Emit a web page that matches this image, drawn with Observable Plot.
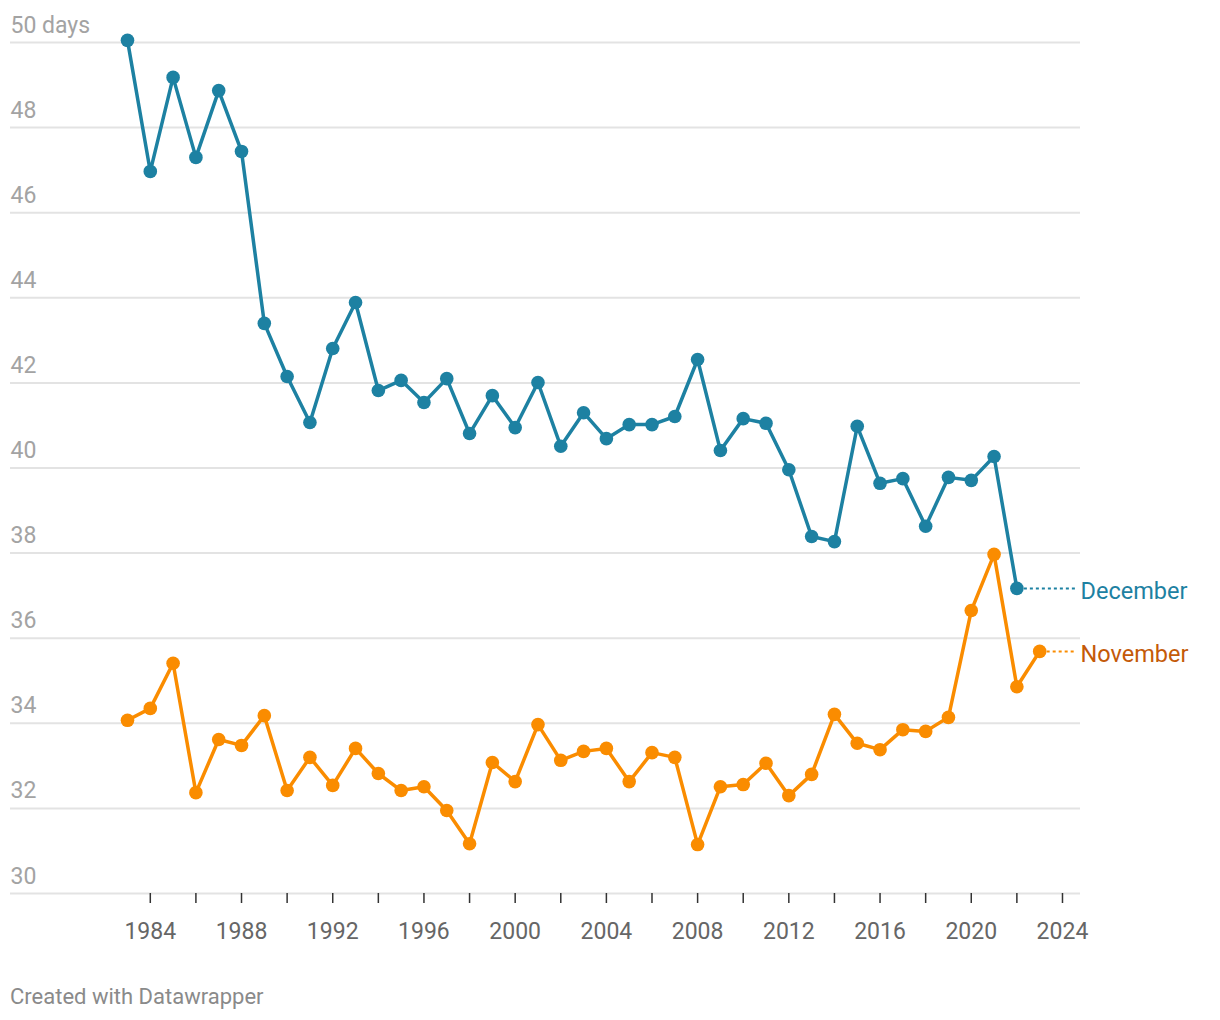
<!DOCTYPE html>
<html><head><meta charset="utf-8">
<script src="https://cdn.jsdelivr.net/npm/d3@7"></script>
<script src="https://cdn.jsdelivr.net/npm/@observablehq/plot@0.6"></script>
<style>
body{margin:0;background:#fff;font-family:Roboto,sans-serif;}
#wrap{position:relative;width:1220px;height:1020px;}
.footer{position:absolute;left:10px;top:984px;font-size:22px;color:#8a8a8a;font-family:Roboto,sans-serif;}
</style></head><body>
<div id="wrap"><div id="chart"></div><div class="footer">Created with Datawrapper</div></div>
<script>
const years = [1983,1984,1985,1986,1987,1988,1989,1990,1991,1992,1993,1994,1995,1996,1997,1998,1999,2000,2001,2002,2003,2004,2005,2006,2007,2008,2009,2010,2011,2012,2013,2014,2015,2016,2017,2018,2019,2020,2021,2022,2023];
const december = [50.05,46.97,49.18,47.30,48.87,47.44,43.40,42.15,41.07,42.81,43.89,41.82,42.06,41.54,42.10,40.81,41.70,40.95,42.01,40.51,41.30,40.69,41.02,41.02,41.21,42.55,40.41,41.16,41.05,39.96,38.39,38.27,40.98,39.64,39.75,38.63,39.78,39.71,40.27,37.17];
const november = [34.07,34.35,35.41,32.37,33.62,33.48,34.18,32.42,33.20,32.54,33.41,32.82,32.42,32.51,31.95,31.17,33.08,32.63,33.97,33.13,33.34,33.41,32.63,33.31,33.20,31.15,32.51,32.56,33.06,32.30,32.80,34.21,33.53,33.38,33.85,33.81,34.14,36.65,37.97,34.86,35.69];
const yTicks = [30,32,34,36,38,40,42,44,46,48,50];
const xTickMarks = [1984,1986,1988,1990,1992,1994,1996,1998,2000,2002,2004,2006,2008,2010,2012,2014,2016,2018,2020,2022,2024];
const xTickLabels = [1984,1988,1992,1996,2000,2004,2008,2012,2016,2020,2024];
const seriesNames = ["December","November"];
const lineColors = {December:"#1d81a2", November:"#fa8c00"};
const labelColors = {December:"#1d81a2", November:"#c45a08"};

const rows = [];
december.forEach((v,i)=>rows.push({series:"December", year:years[i], value:v}));
november.forEach((v,i)=>rows.push({series:"November", year:years[i], value:v}));
const last = seriesNames.map(s => rows.filter(r=>r.series===s).at(-1));

const xDomain = [1977.87, 2024.79];
const plot = Plot.plot({
  width:1220, height:960, marginLeft:10, marginRight:140, marginTop:42, marginBottom:67,
  x:{domain:xDomain, axis:null}, y:{domain:[30,50], axis:null},
  style:{fontFamily:"Roboto", fontSize:"23px", background:"#fff", overflow:"visible"},
  marks:[
    Plot.ruleY(yTicks,{stroke:"#e3e3e3", strokeWidth:2}),
    Plot.text(yTicks,{x:xDomain[0], y:d=>d, text:d=>d===50?"50 days":String(d), textAnchor:"start", lineAnchor:"bottom", dy:-10, fill:"#a3a3a3", fontSize:23}),
    Plot.axisX({ticks:xTickMarks, tickSize:10, tickFormat:()=>"", stroke:"#333", strokeWidth:1.5, label:null}),
    Plot.axisX({ticks:xTickLabels, tickSize:0, tickPadding:29, tickFormat:d=>String(d), fill:"#666", fontSize:23, label:null}),
    Plot.link(last,{x1:"year", y1:"value", x2:xDomain[1], y2:"value", stroke:d=>lineColors[d.series], strokeDasharray:"3,3", strokeWidth:2, dx:-5}),
    Plot.line(rows,{x:"year", y:"value", z:"series", stroke:d=>lineColors[d.series], strokeWidth:3.5}),
    Plot.dot(rows,{x:"year", y:"value", r:6.8, fill:d=>lineColors[d.series]}),
    Plot.text(last,{x:xDomain[1], y:"value", text:"series", textAnchor:"start", dx:0, dy:3, fill:d=>labelColors[d.series], fontSize:23.5})
  ]
});
document.getElementById("chart").appendChild(plot);
</script>
</body></html>
